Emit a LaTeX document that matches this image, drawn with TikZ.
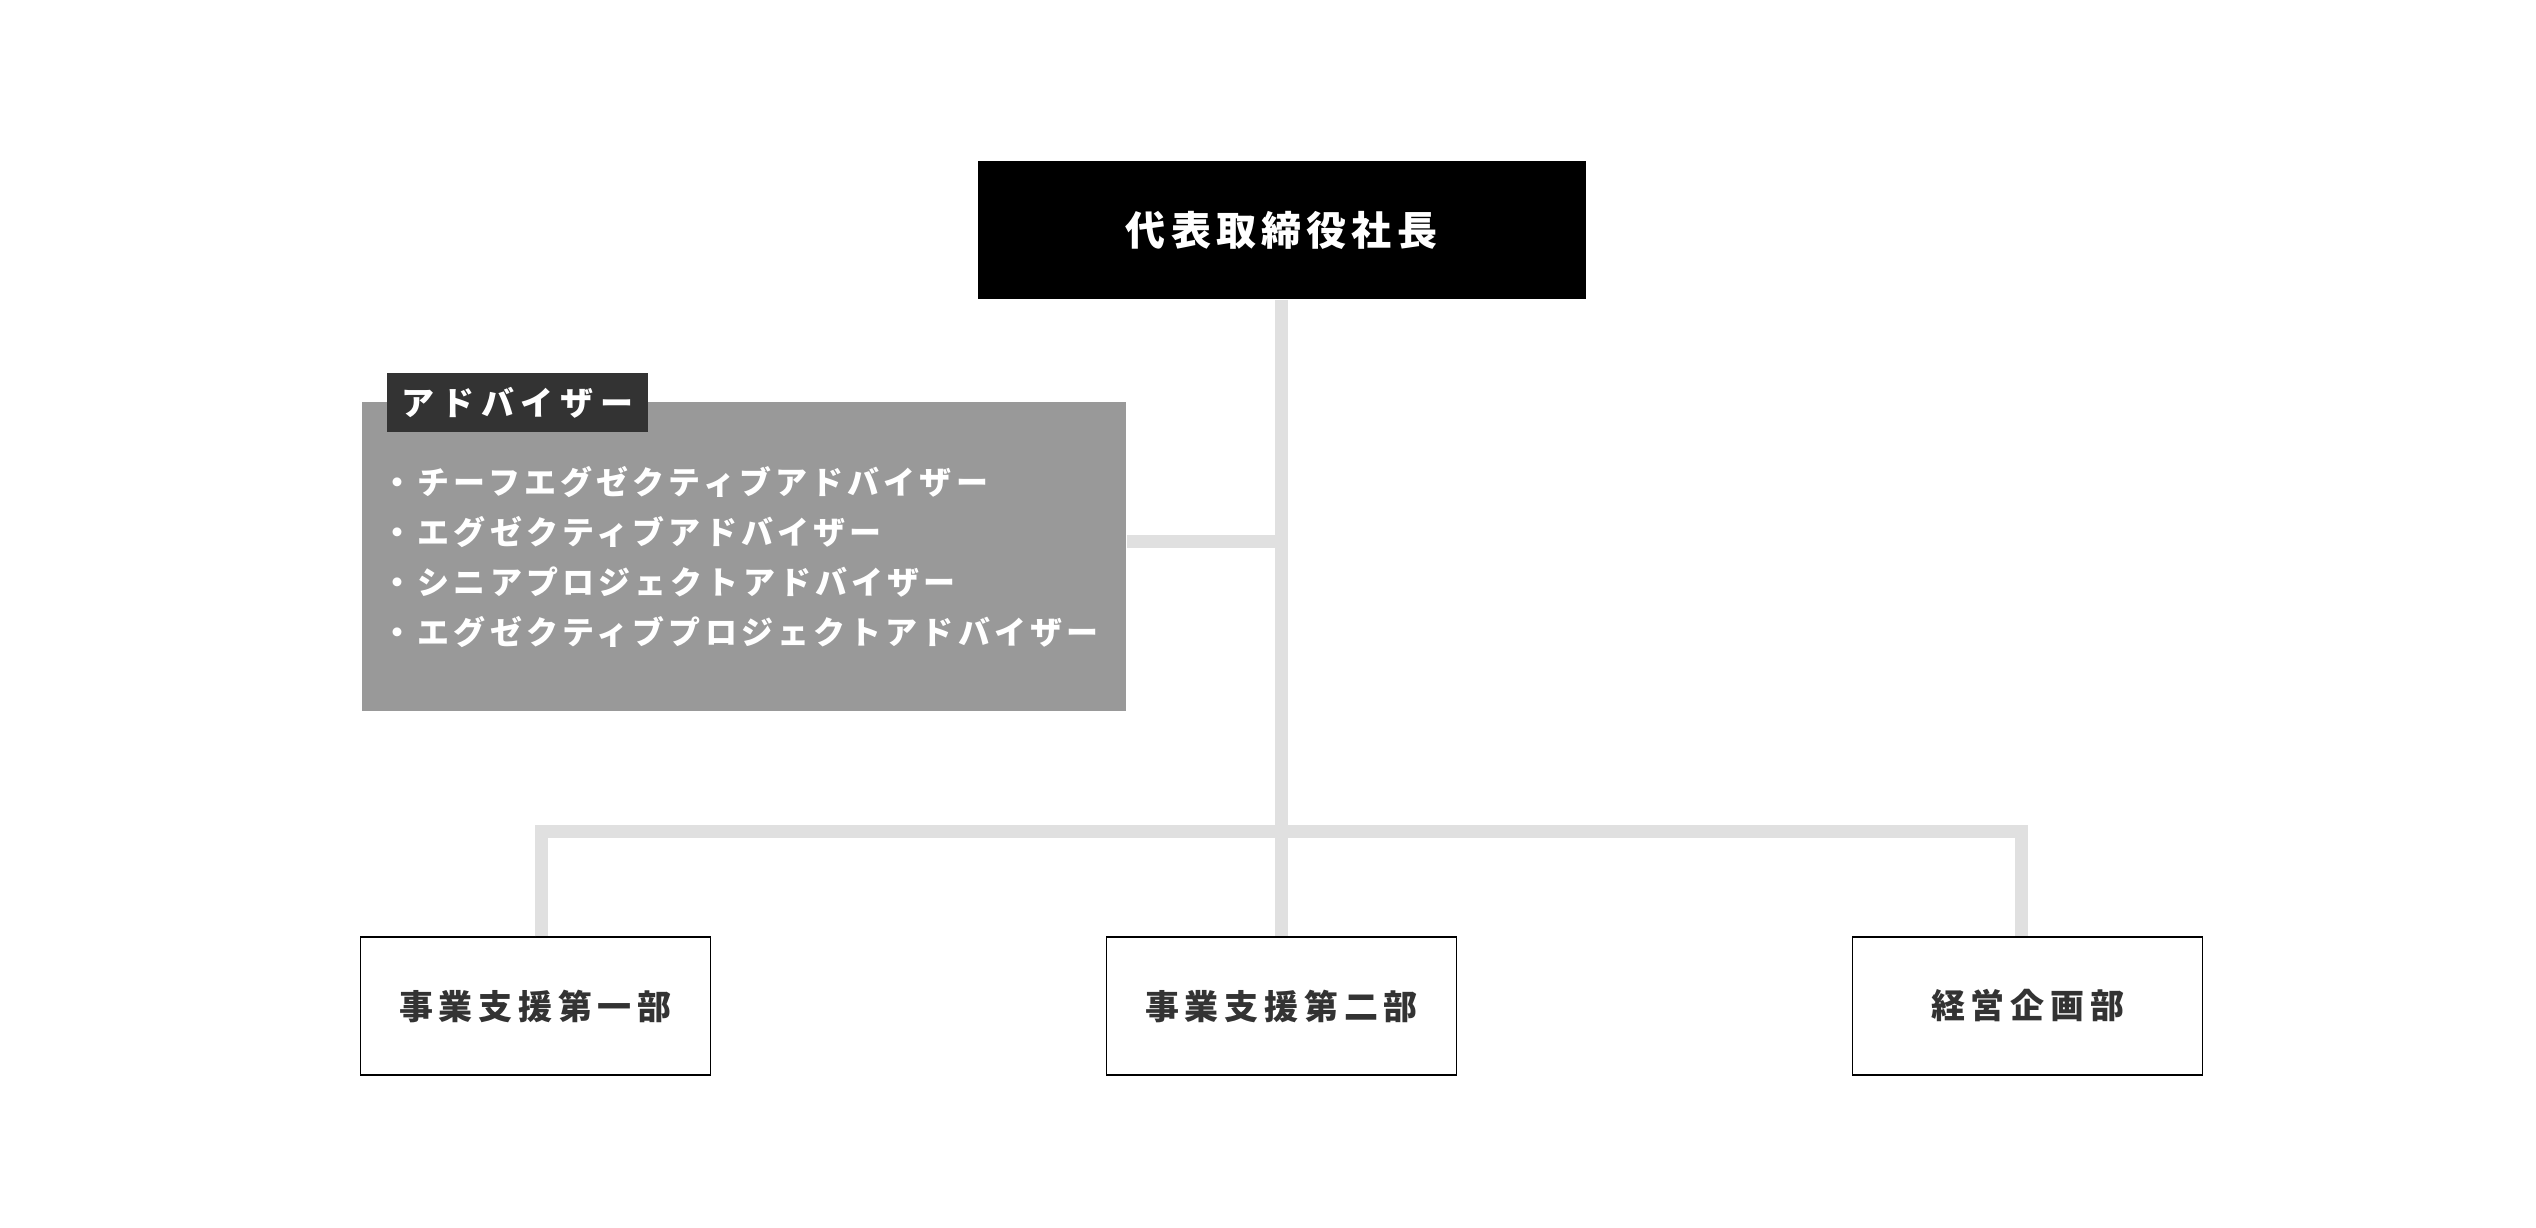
\documentclass[tikz,border=0pt]{standalone}
\usepackage{fontspec}
\usepackage{xcolor}
\usepackage{tikz}
\usetikzlibrary{positioning}
\newfontfamily\jpfont{Noto Sans CJK JP}
\definecolor{linkgray}{HTML}{E0E0E0}
\definecolor{advgray}{HTML}{999999}
\definecolor{tagdark}{HTML}{333333}
\definecolor{depttext}{HTML}{333333}

\begin{document}
\begin{tikzpicture}[
    dept/.style={draw=black, line width=0.3pt, minimum width=3.5cm, minimum height=1.38cm, inner sep=0pt, text=depttext,
      font=\jpfont\bfseries\fontsize{9.67pt}{11pt}\selectfont\addfontfeature{LetterSpace=17}},
    link/.style={draw=linkgray, line width=0.13cm}]
    \useasboundingbox (0,0) rectangle (25.36,-12.28);

    \node[fill=black, minimum width=6.08cm, minimum height=1.38cm, inner sep=0pt, text=white,
      font=\jpfont\bfseries\fontsize{11.38pt}{13pt}\selectfont\addfontfeature{LetterSpace=13}] (ceo) at (12.815,-2.30) {代表取締役社長};

    \node[fill=advgray, minimum width=7.64cm, minimum height=3.09cm, inner sep=0pt] (adv) at (7.44,-5.565) {};
    \node[fill=tagdark, minimum width=2.61cm, minimum height=0.59cm, inner sep=0pt, text=white, anchor=north west, xshift=0.25cm, yshift=0.29cm,
      font=\jpfont\bfseries\fontsize{9.39pt}{11pt}\selectfont\addfontfeature{LetterSpace=21}] (advtag) at (adv.north west) {アドバイザー};
    \node[anchor=west, align=left, inner sep=0pt, text=white,
      font=\jpfont\bfseries\fontsize{9.1pt}{14.23pt}\selectfont\addfontfeature{LetterSpace=13}] (advlist) at (3.81,-5.575)
      {・チーフエグゼクティブアドバイザー\\・エグゼクティブアドバイザー\\・シニアプロジェクトアドバイザー\\・エグゼクティブプロジェクトアドバイザー};

    \node[dept] (d2) at (12.815,-10.06) {事業支援第二部};
    \node[dept, left=3.95cm of d2] (d1) {事業支援第一部};
    \node[dept, right=3.95cm of d2] (d3) {経営企画部};

    \draw[link] (ceo.south) -- (d2.north);
    \coordinate (advjoin) at ([yshift=0.15cm]adv.east);
    \draw[link] (advjoin) -- (advjoin -| ceo.south);
    \draw[link] ([xshift=0.06cm]d1.north) -- ++(0,1.045) -| ([xshift=-0.065cm]d3.north);
\end{tikzpicture}
\end{document}
